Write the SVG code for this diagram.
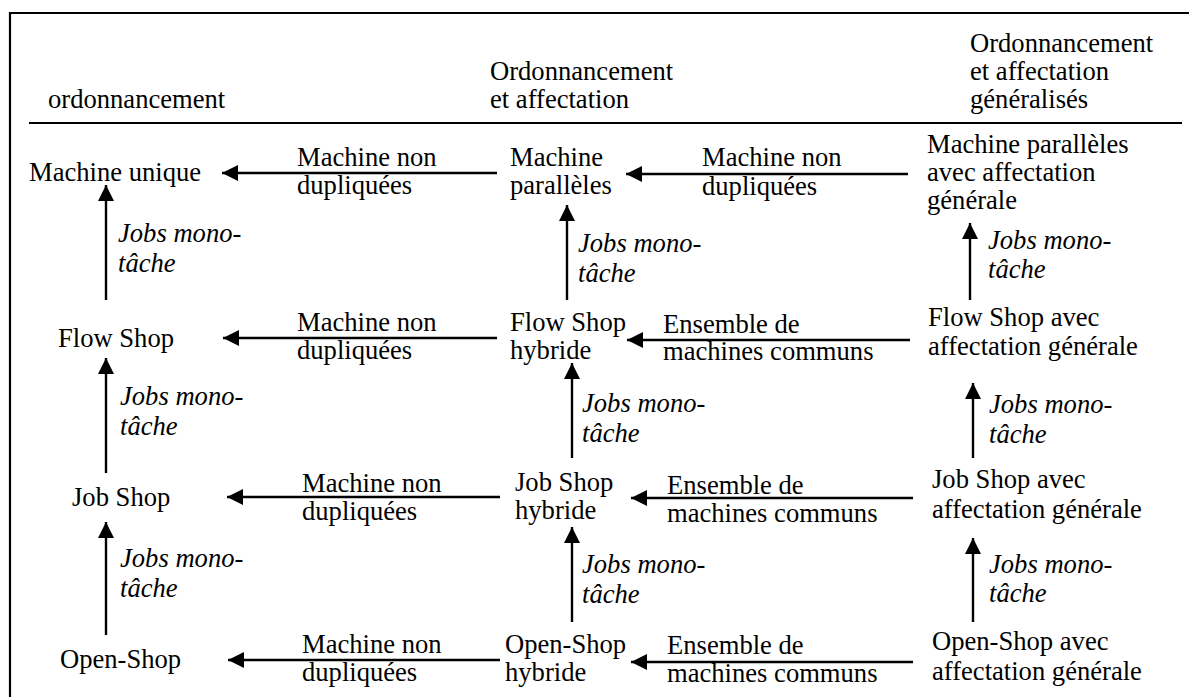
<svg xmlns="http://www.w3.org/2000/svg" width="1189" height="697" viewBox="0 0 1189 697">
<defs>
<marker id="ah" markerUnits="userSpaceOnUse" markerWidth="17" markerHeight="16" refX="16" refY="8" orient="auto">
<path d="M0,0 L16,8 L0,16 Z" fill="#000"/>
</marker>
<style>
text{font-family:"Liberation Serif","Times New Roman",serif;font-size:26.6px;fill:#000}
.i{font-style:italic}
.c line{stroke:#000;stroke-width:2.4;marker-end:url(#ah)}
.f{stroke:#000;stroke-width:2.2;fill:none}
</style>
</defs>
<rect width="1189" height="697" fill="#fff"/>
<g id="frame">
<path class="f" d="M10,697 L10,13 L1189,13"/>
<line class="f" x1="29" y1="123" x2="1182" y2="123"/>
</g>
<g id="headers">
<text x="48" y="108">ordonnancement</text>
<text x="490" y="80">Ordonnancement</text>
<text x="490" y="108">et affectation</text>
<text x="970" y="52">Ordonnancement</text>
<text x="970" y="80">et affectation</text>
<text x="970" y="108">généralisés</text>
</g>
<g id="n-machine-unique"><text x="29" y="181">Machine unique</text></g>
<g id="n-flow-shop"><text x="58" y="347">Flow Shop</text></g>
<g id="n-job-shop"><text x="72" y="506">Job Shop</text></g>
<g id="n-open-shop"><text x="60" y="668">Open-Shop</text></g>
<g id="n-machine-paralleles"><text x="510" y="166">Machine</text><text x="510" y="194">parallèles</text></g>
<g id="n-flow-shop-hybride"><text x="510" y="331">Flow Shop</text><text x="510" y="359">hybride</text></g>
<g id="n-job-shop-hybride"><text x="515" y="491">Job Shop</text><text x="515" y="519">hybride</text></g>
<g id="n-open-shop-hybride"><text x="505" y="653">Open-Shop</text><text x="505" y="681">hybride</text></g>
<g id="n-mp-gen"><text x="927" y="153">Machine parallèles</text><text x="927" y="181">avec affectation</text><text x="927" y="209">générale</text></g>
<g id="n-fs-gen"><text x="928" y="326">Flow Shop avec</text><text x="928" y="355">affectation générale</text></g>
<g id="n-js-gen"><text x="932" y="488">Job Shop avec</text><text x="932" y="518">affectation générale</text></g>
<g id="n-os-gen"><text x="932" y="650">Open-Shop avec</text><text x="932" y="680">affectation générale</text></g>
<g id="connectors" class="c">
<line x1="106" y1="300" x2="106" y2="185"/>
<line x1="106" y1="473" x2="106" y2="358"/>
<line x1="106" y1="635" x2="106" y2="522"/>
<line x1="567" y1="300" x2="567" y2="205"/>
<line x1="572" y1="458" x2="572" y2="363"/>
<line x1="572" y1="622" x2="572" y2="527"/>
<line x1="970" y1="300" x2="970" y2="223"/>
<line x1="973" y1="458" x2="973" y2="383"/>
<line x1="973" y1="622" x2="973" y2="538"/>
<line x1="497" y1="173" x2="222" y2="173"/>
<line x1="497" y1="338" x2="223" y2="338"/>
<line x1="500" y1="497" x2="227" y2="497"/>
<line x1="500" y1="660" x2="228" y2="660"/>
<line x1="908" y1="174" x2="626" y2="174"/>
<line x1="910" y1="340" x2="627" y2="340"/>
<line x1="913" y1="498" x2="631" y2="498"/>
<line x1="913" y1="662" x2="631" y2="662"/>
</g>
<g id="labels">
<text class="i" x="118" y="242">Jobs mono-</text><text class="i" x="118" y="272">tâche</text>
<text class="i" x="120" y="405">Jobs mono-</text><text class="i" x="120" y="435">tâche</text>
<text class="i" x="120" y="567">Jobs mono-</text><text class="i" x="120" y="597">tâche</text>
<text class="i" x="578" y="252">Jobs mono-</text><text class="i" x="578" y="282">tâche</text>
<text class="i" x="582" y="412">Jobs mono-</text><text class="i" x="582" y="442">tâche</text>
<text class="i" x="582" y="573">Jobs mono-</text><text class="i" x="582" y="603">tâche</text>
<text class="i" x="988" y="249">Jobs mono-</text><text class="i" x="988" y="278">tâche</text>
<text class="i" x="989" y="413">Jobs mono-</text><text class="i" x="989" y="443">tâche</text>
<text class="i" x="989" y="573">Jobs mono-</text><text class="i" x="989" y="602">tâche</text>
<text x="297" y="166">Machine non</text><text x="297" y="194">dupliquées</text>
<text x="297" y="331">Machine non</text><text x="297" y="359">dupliquées</text>
<text x="302" y="492">Machine non</text><text x="302" y="520">dupliquées</text>
<text x="302" y="653">Machine non</text><text x="302" y="681">dupliquées</text>
<text x="702" y="166">Machine non</text><text x="702" y="195">dupliquées</text>
<text x="663" y="333">Ensemble de</text><text x="663" y="360">machines communs</text>
<text x="667" y="494">Ensemble de</text><text x="667" y="522">machines communs</text>
<text x="667" y="654">Ensemble de</text><text x="667" y="682">machines communs</text>
</g>
</svg>
